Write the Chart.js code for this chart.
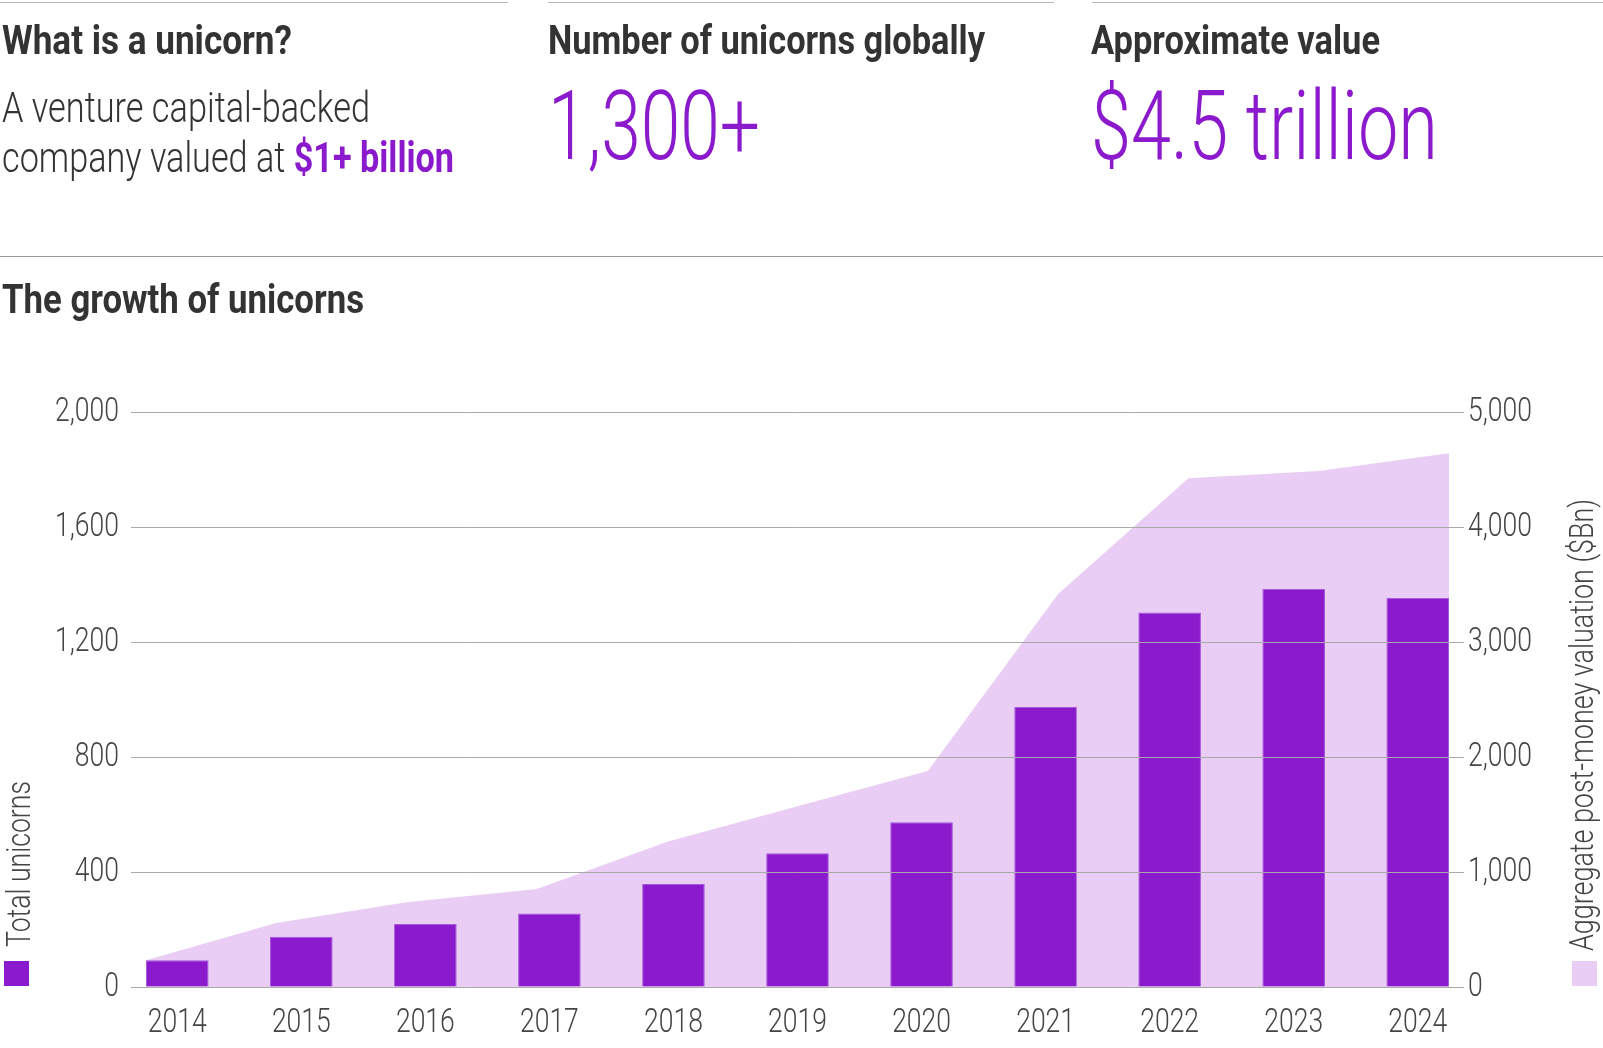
<!DOCTYPE html>
<html>
<head>
<meta charset="utf-8">
<script src="https://cdn.jsdelivr.net/npm/chart.js@4/dist/chart.umd.min.js"></script>
<style>
html,body{margin:0;padding:0;background:#fff;}
body{width:1603px;height:1048px;position:relative;overflow:hidden;}
.rule{position:absolute;height:1px;background:#b5b5b5;}
.t{position:absolute;font-family:Roboto,sans-serif;line-height:1;white-space:nowrap;transform-origin:0 0;color:#333;}
.h{font-weight:700;font-size:41px;}
.body{font-weight:300;font-size:43px;}
.big{font-weight:300;color:#8B1ACC;font-size:96px;}
.acc{color:#8B1ACC;font-weight:700;}
.axt{font-weight:300;font-size:34px;color:#444;}
.sq{position:absolute;width:25px;height:25px;}
#c{position:absolute;left:0;top:0;}
</style>
</head>
<body>
<canvas id="c" width="1603" height="1048"></canvas>

<div class="rule" style="left:0;top:2px;width:508px;"></div>
<div class="rule" style="left:548px;top:2px;width:506px;"></div>
<div class="rule" style="left:1092px;top:2px;width:511px;"></div>
<div class="rule" style="left:0;top:256px;width:1603px;background:#9a9a9a;"></div>

<div class="t h fit" data-w="290" style="left:2px;top:19.5px;">What is a unicorn?</div>
<div class="t body fit" data-w="368" style="left:2px;top:85.8px;">A venture capital-backed</div>
<div class="t body fit" data-w="452" style="left:2px;top:136.3px;">company valued at <span class="acc">$1+ billion</span></div>

<div class="t h fit" data-w="437" style="left:548px;top:19.5px;">Number of unicorns globally</div>
<div class="t big fit" data-w="212" style="left:548px;top:78.2px;">1,300+</div>

<div class="t h fit" data-w="289" style="left:1091px;top:19.5px;">Approximate value</div>
<div class="t big fit" data-w="347" style="left:1091px;top:78.2px;">$4.5 trillion</div>

<div class="t h fit" data-w="362" style="left:2px;top:278.5px;">The growth of unicorns</div>

<div class="t axt rot" data-w="166" style="left:1px;top:947px;">Total unicorns</div>
<div class="sq" style="left:4px;top:961px;background:#8A1ACC;"></div>
<div class="t axt rot" data-w="452" style="left:1564px;top:951px;">Aggregate post-money valuation ($Bn)</div>
<div class="sq" style="left:1572px;top:961px;background:#EACDF5;"></div>

<script>
// ---- data ----
const categories = ['2014','2015','2016','2017','2018','2019','2020','2021','2022','2023','2024'];
const totalUnicorns = [93, 175, 219, 256, 358, 465, 573, 974, 1303, 1384, 1353];
const aggregateValuationBn = [233, 556, 736, 853, 1263, 1572, 1878, 3417, 4423, 4487, 4641];
const leftTicks = [0, 400, 800, 1200, 1600, 2000];
const rightTicks = [0, 1000, 2000, 3000, 4000, 5000];

// ---- text fitting (layout only) ----
document.querySelectorAll('.fit').forEach(el => {
  const w = el.getBoundingClientRect().width;
  el.style.transform = 'scaleX(' + (parseFloat(el.dataset.w) / w) + ')';
});
document.querySelectorAll('.rot').forEach(el => {
  const w = el.getBoundingClientRect().width;
  el.style.transform = 'rotate(-90deg) scaleX(' + (parseFloat(el.dataset.w) / w) + ')';
});

// ---- chart ----
const barPoints = totalUnicorns.map((v, i) => ({x: i, y: v}));
const areaPoints = aggregateValuationBn.map((v, i) => ({x: i, y: v}));
const TEXT = '#454545';
const LABEL_FONT = '300 34px Roboto, sans-serif';
const SQUEEZE = 0.78;
const fmt = v => Number(v).toLocaleString('en-US');

// draws the axis tick labels in a condensed face, at the scales' own tick pixels
const condensedTickLabels = {
  id: 'condensedTickLabels',
  afterDraw(chart) {
    const ctx = chart.ctx;
    const {x, y, y2} = chart.scales;
    const draw = (text, px, py, align) => {
      ctx.save();
      ctx.translate(px, py);
      ctx.scale(SQUEEZE, 1);
      ctx.font = LABEL_FONT;
      ctx.fillStyle = TEXT;
      ctx.textAlign = align;
      ctx.textBaseline = 'alphabetic';
      ctx.fillText(text, 0, 0);
      ctx.restore();
    };
    x.ticks.forEach((t, i) => draw(categories[t.value], x.getPixelForTick(i), x.top + 45, 'center'));
    y.ticks.forEach((t, i) => draw(fmt(t.value), y.right - 12, y.getPixelForTick(i) + 9, 'right'));
    y2.ticks.forEach((t, i) => draw(fmt(t.value), y2.left + 4, y2.getPixelForTick(i) + 9, 'left'));
  }
};

new Chart(document.getElementById('c'), {
  type: 'bar',
  data: {
    datasets: [
      {type: 'bar', label: 'Total unicorns', data: barPoints, xAxisID: 'x', yAxisID: 'y',
       backgroundColor: '#8A1ACC', borderColor: '#A45ADC', borderWidth: 1,
       barPercentage: 0.505, categoryPercentage: 1, grouped: false, order: 0},
      {type: 'line', label: 'Aggregate post-money valuation ($Bn)', data: areaPoints, xAxisID: 'xa', yAxisID: 'y2',
       fill: 'origin', backgroundColor: '#EACDF5', borderWidth: 0, pointRadius: 0, tension: 0, order: 1}
    ]
  },
  plugins: [condensedTickLabels],
  options: {
    responsive: false,
    animation: false,
    devicePixelRatio: 1,
    layout: {padding: {top: 412, left: 0, right: 0, bottom: 0}},
    plugins: {legend: {display: false}, tooltip: {enabled: false}},
    scales: {
      x: {
        type: 'linear', position: 'bottom', offset: false, min: -0.373, max: 10.373,
        grid: {display: false, offset: false}, border: {display: false},
        afterBuildTicks: a => { a.ticks = categories.map((c, i) => ({value: i})); },
        afterFit: s => { s.height = 61; },
        ticks: {display: false, autoSkip: false}
      },
      xa: {type: 'linear', display: false, offset: false, min: -0.115, max: 10.115,
           grid: {offset: false}},
      y: {
        type: 'linear', position: 'left', min: 0, max: 2000,
        grid: {color: '#a9a9a9', lineWidth: 1, drawTicks: false, z: 1},
        border: {display: false},
        afterBuildTicks: a => { a.ticks = leftTicks.map(v => ({value: v})); },
        afterFit: s => { s.width = 131; },
        ticks: {display: false}
      },
      y2: {
        type: 'linear', position: 'right', min: 0, max: 5000,
        grid: {display: false}, border: {display: false},
        afterBuildTicks: a => { a.ticks = rightTicks.map(v => ({value: v})); },
        afterFit: s => { s.width = 139; },
        ticks: {display: false}
      }
    }
  }
});
</script>
</body>
</html>
